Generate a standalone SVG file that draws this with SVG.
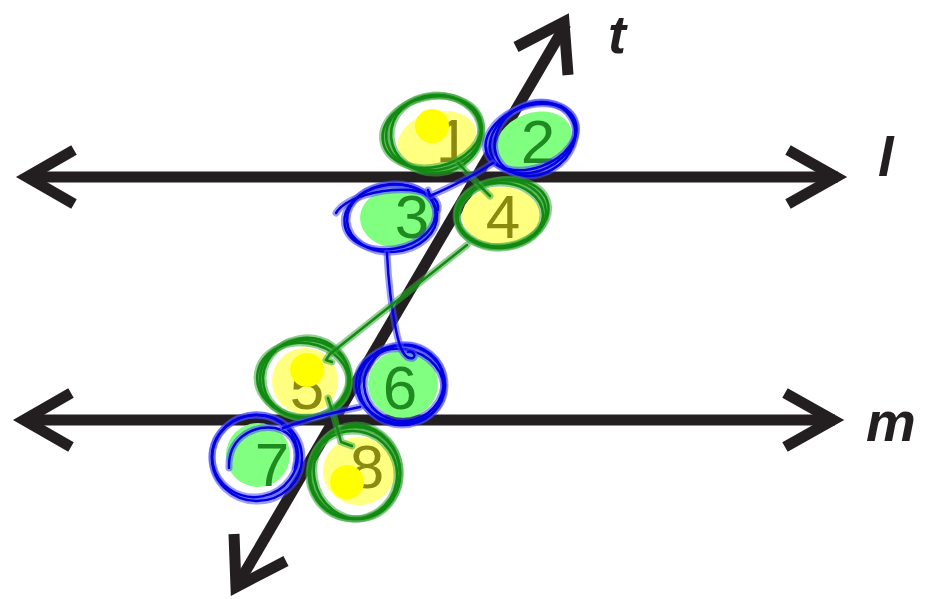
<svg xmlns="http://www.w3.org/2000/svg" xmlns:xlink="http://www.w3.org/1999/xlink" width="927" height="599" viewBox="0 0 927 599">
<style>
.ln{stroke:#231f20;stroke-width:11;fill:none;stroke-linecap:butt;stroke-linejoin:miter;stroke-miterlimit:10}
.yf{fill:#ffff80}
.gf{fill:#80ff80}
.dot{fill:#ffff00}
.num{font-family:"Liberation Sans",Arial,sans-serif;font-size:62px;text-anchor:middle}
.ny{fill:#8a8a10}
.ng{fill:#1f8a1f}
.lab{font-family:"Liberation Sans",Arial,sans-serif;font-weight:bold;font-style:italic;fill:#231f20}
.gh{fill:none;stroke:#3aa83a;stroke-width:7;stroke-opacity:0.55;stroke-linecap:round;stroke-linejoin:round}
.gc{fill:none;stroke:#128a12;stroke-width:2.5;stroke-linecap:round;stroke-linejoin:round}
.bh{fill:none;stroke:#4b4bff;stroke-width:7;stroke-opacity:0.55;stroke-linecap:round;stroke-linejoin:round}
.bc{fill:none;stroke:#0000e0;stroke-width:2.5;stroke-linecap:round;stroke-linejoin:round}
</style>
<defs>
<g id="s1">
<ellipse cx="434" cy="133" rx="48" ry="37" transform="rotate(-8 434 133)"/>
<ellipse cx="436" cy="134" rx="45" ry="39" transform="rotate(-4 436 134)"/>
<ellipse cx="432" cy="132" rx="50" ry="35" transform="rotate(-12 432 132)"/>
</g>
<g id="s2">
<ellipse cx="533" cy="138" rx="45" ry="33" transform="rotate(-25 533 138)"/>
<ellipse cx="535" cy="139" rx="42" ry="35" transform="rotate(-30 535 139)"/>
<ellipse cx="531" cy="137" rx="47" ry="31" transform="rotate(-20 531 137)"/>
</g>
<g id="s3">
<ellipse cx="392" cy="218" rx="45" ry="34" transform="rotate(-5 392 218)"/>
<ellipse cx="390" cy="217" rx="46" ry="32" transform="rotate(-10 390 217)"/>
<path d="M336,213 C345,198 380,188 410,190 C430,192 440,200 438,210"/>
</g>
<g id="s4">
<ellipse cx="501" cy="214" rx="45" ry="34" transform="rotate(-5 501 214)"/>
<ellipse cx="500" cy="215" rx="43" ry="32"/>
<ellipse cx="503" cy="213" rx="46" ry="33" transform="rotate(-12 503 213)"/>
</g>
<g id="s5">
<ellipse cx="305" cy="379" rx="45" ry="39"/>
<ellipse cx="306" cy="378" rx="43" ry="40" transform="rotate(-10 306 378)"/>
<ellipse cx="303" cy="380" rx="46" ry="37" transform="rotate(8 303 380)"/>
</g>
<g id="s6">
<ellipse cx="402" cy="385" rx="43" ry="40"/>
<ellipse cx="404" cy="383" rx="40" ry="38" transform="rotate(-15 404 383)"/>
<ellipse cx="400" cy="386" rx="44" ry="37" transform="rotate(10 400 386)"/>
</g>
<g id="s7">
<ellipse cx="257" cy="458" rx="45" ry="43"/>
<ellipse cx="255" cy="456" rx="43" ry="41" transform="rotate(-10 255 456)"/>
<path d="M229,468 C228,440 250,425 275,428 C295,432 300,450 295,468"/>
</g>
<g id="s8">
<ellipse cx="355" cy="473" rx="45" ry="46"/>
<ellipse cx="357" cy="472" rx="43" ry="47" transform="rotate(-10 357 472)"/>
<ellipse cx="353" cy="475" rx="44" ry="44" transform="rotate(10 353 475)"/>
</g>
</defs>

<g id="line-l">
<path class="ln" d="M28,177 H838"/>
<path class="ln" d="M74,150 L27,177 L74,204"/>
<path class="ln" d="M788,150 L836,177 L788,204"/>
</g>
<g id="line-m">
<path class="ln" d="M25,420 H835"/>
<path class="ln" d="M71,393 L24,420 L71,447"/>
<path class="ln" d="M785,393 L833,420 L785,447"/>
</g>
<g id="line-t">
<path class="ln" d="M238,584 L566,24"/>
<path class="ln" d="M516,47 L564,22 L568,75"/>
<path class="ln" d="M234,534 L236,587 L286,561"/>
</g>
<g id="labels">
<text class="lab" x="608" y="53" font-size="54">t</text>
<text class="lab" x="878" y="176" font-size="56">l</text>
<text class="lab" x="866" y="441" font-size="56">m</text>
</g>

<g id="angle1">
<ellipse class="yf" cx="437" cy="139" rx="40" ry="27" transform="rotate(-15 437 139)"/>
<text class="num ny" x="453" y="162">1</text>
<circle class="dot" cx="432" cy="126" r="17"/>
<use xlink:href="#s1" class="gh"/><use xlink:href="#s1" class="gc"/>
</g>
<g id="angle2">
<ellipse class="gf" cx="534" cy="141" rx="39" ry="28" transform="rotate(-20 534 141)"/>
<text class="num ng" x="538" y="163">2</text>
<use xlink:href="#s2" class="bh"/><use xlink:href="#s2" class="bc"/>
</g>
<g id="angle3">
<ellipse class="gf" cx="398" cy="218" rx="38" ry="30"/>
<text class="num ng" x="412" y="238">3</text>
<use xlink:href="#s3" class="bh"/><use xlink:href="#s3" class="bc"/>
</g>
<g id="angle4">
<ellipse class="yf" cx="501" cy="216" rx="39" ry="29"/>
<text class="num ny" x="503" y="238">4</text>
<use xlink:href="#s4" class="gh"/><use xlink:href="#s4" class="gc"/>
</g>
<g id="angle5">
<circle class="yf" cx="305" cy="381" r="33"/>
<text class="num ny" x="307" y="409">5</text>
<circle class="dot" cx="307" cy="370" r="17"/>
<use xlink:href="#s5" class="gh"/><use xlink:href="#s5" class="gc"/>
</g>
<g id="angle6">
<ellipse class="gf" cx="403" cy="384" rx="35" ry="34"/>
<text class="num ng" x="400" y="409">6</text>
<use xlink:href="#s6" class="bh"/><use xlink:href="#s6" class="bc"/>
</g>
<g id="angle7">
<ellipse class="gf" cx="258" cy="455" rx="32" ry="32"/>
<text class="num ng" x="272" y="486">7</text>
<use xlink:href="#s7" class="bh"/><use xlink:href="#s7" class="bc"/>
</g>
<g id="angle8">
<ellipse class="yf" cx="359" cy="471" rx="36" ry="34"/>
<text class="num ny" x="367" y="488">8</text>
<circle class="dot" cx="347" cy="482" r="17"/>
<use xlink:href="#s8" class="gh"/><use xlink:href="#s8" class="gc"/>
</g>

<g id="connectors">
<path class="gh" d="M458,163 L480,186 L490,196"/>
<path class="gc" d="M458,163 L480,186 L490,196"/>
<path class="bh" d="M493,163 C475,175 455,185 430,196 L428,190"/>
<path class="bc" d="M493,163 C475,175 455,185 430,196 L428,190"/>
<path class="bh" d="M387,253 C388,275 390,300 396,330 C400,350 405,360 413,358 C417,356 412,350 408,352"/>
<path class="bc" d="M387,253 C388,275 390,300 396,330 C400,350 405,360 413,358 C417,356 412,350 408,352"/>
<path class="gh" d="M467,245 L330,354 L326,360 L332,362"/>
<path class="gc" d="M467,245 L330,354 L326,360 L332,362"/>
<path class="gh" d="M328,398 L335,420 L341,442 L352,446"/>
<path class="gc" d="M328,398 L335,420 L341,442 L352,446"/>
<path class="bh" d="M360,407 C335,412 310,418 283,428"/>
<path class="bc" d="M360,407 C335,412 310,418 283,428"/>
</g>
</svg>
